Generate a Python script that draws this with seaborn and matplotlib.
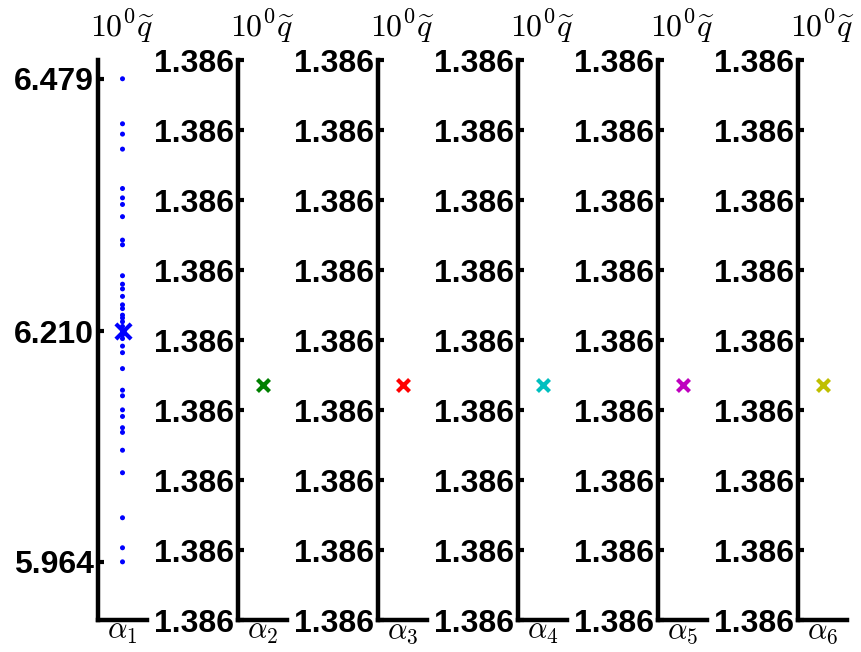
import numpy as np
import pandas as pd
import matplotlib
matplotlib.use("Agg")
import matplotlib.pyplot as plt
from matplotlib.ticker import FormatStrFormatter
import seaborn as sns

# samples of alpha_1
alpha1_samples = [6.479, 6.431, 6.420, 6.404, 6.362, 6.352, 6.345, 6.332, 6.307, 6.302,
                  6.269, 6.260, 6.255, 6.247, 6.238, 6.234, 6.227, 6.224, 6.220, 6.215,
                  6.210, 6.206, 6.202, 6.194, 6.187, 6.170, 6.147, 6.141, 6.126, 6.119,
                  6.107, 6.102, 6.083, 6.059, 6.011, 5.979, 5.964]
alpha1_mean = 6.210
alpha1_ticks = [5.964, 6.210, 6.479]

# other parameters are constant
other_value = 1.3862894
other_lim = (1.38626, 1.38633)

labels = [r"$\alpha_1$", r"$\alpha_2$", r"$\alpha_3$", r"$\alpha_4$", r"$\alpha_5$", r"$\alpha_6$"]
colors = ["#0000ff", "#008000", "#ff0000", "#00bfbf", "#bf00bf", "#bfbf00"]
title = r"$10^0\widetilde{q}$"

sns.set_style("white")
plt.rcParams["font.family"] = ["Liberation Sans", "DejaVu Sans"]
plt.rcParams["mathtext.fontset"] = "cm"
plt.rcParams["text.color"] = "black"
plt.rcParams["ytick.color"] = "black"
plt.rcParams["axes.labelcolor"] = "black"

fig = plt.figure(figsize=(8.61, 6.52), dpi=100)
W, H = 861, 652

for i in range(6):
    ax = fig.add_axes([(98 + 140 * i) / W, 32 / H, 49 / W, 560 / H])
    if i == 0:
        df = pd.DataFrame({"x": [1] * len(alpha1_samples), "y": alpha1_samples})
        sns.scatterplot(data=df, x="x", y="y", ax=ax, color=colors[0], s=13,
                        edgecolor="none", legend=False)
        sns.scatterplot(x=[1], y=[alpha1_mean], ax=ax, color=colors[0], marker="x",
                        s=120, linewidth=3, legend=False)
        ax.set_ylim(5.902, 6.499)
        ax.set_yticks(alpha1_ticks)
    else:
        sns.scatterplot(x=[1], y=[other_value], ax=ax, color=colors[i], marker="x",
                        s=75, linewidth=3, legend=False)
        ax.set_ylim(*other_lim)
        ax.set_yticks(np.linspace(other_lim[0], other_lim[1], 9))
    ax.set_xlim(0.5, 1.5)
    ax.set_xticks([])
    ax.yaxis.set_major_formatter(FormatStrFormatter("%.3f"))
    ax.tick_params(axis="y", direction="in", length=4, width=3, pad=3,
                   labelsize=23, left=True, colors="black")
    for lab in ax.get_yticklabels():
        lab.set_fontweight("bold")
    sns.despine(ax=ax)
    ax.spines["left"].set_linewidth(3.2)
    ax.spines["bottom"].set_linewidth(3.2)
    ax.spines["left"].set_color("black")
    ax.spines["bottom"].set_color("black")
    ax.set_ylabel("")
    ax.set_xlabel(labels[i], fontsize=22, labelpad=-3, color="black")
    ax.set_title(title, fontsize=23, pad=17, color="black")

fig.savefig("out.png", dpi=100)
